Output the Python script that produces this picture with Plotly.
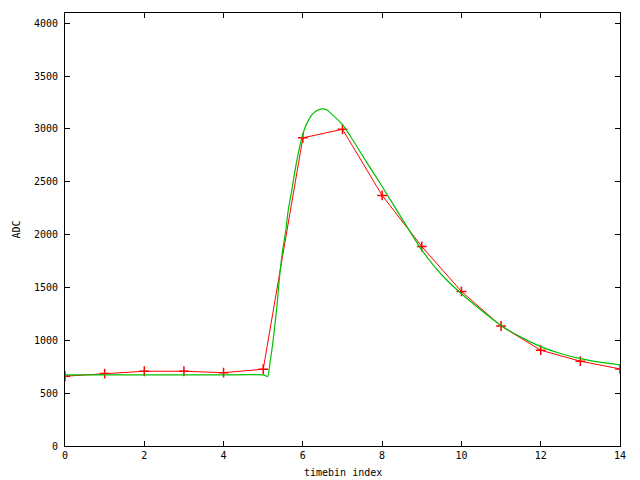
import plotly.graph_objects as go

# measured data (red)
data_x = list(range(15))
data_y = [660, 685, 707, 707, 694, 726, 2915, 2996, 2370, 1887, 1462, 1135, 906, 802, 729]

# fit curve (green)
fit_x = [0, 1, 2, 3, 4, 5.0, 5.11, 5.17, 5.23, 5.30, 5.36, 5.42, 5.49, 5.57, 5.63, 5.72, 5.80,
         5.88, 5.97, 6.05, 6.14, 6.22, 6.31, 6.40, 6.50, 6.60, 6.77, 7.0, 7.2, 7.6, 8.0, 8.45,
         9.0, 9.5, 10.0, 10.5, 11.0, 11.5, 12.0, 12.5, 13.0, 13.5, 14.0]
fit_y = [672, 672, 672, 672, 672, 672, 657, 783, 940, 1160, 1380, 1632, 1852, 2040, 2229, 2418, 2600,
         2760, 2910, 3005, 3080, 3130, 3162, 3182, 3190, 3180, 3125, 3040, 2930, 2690, 2455, 2182,
         1853, 1620, 1440, 1285, 1140, 1030, 940, 875, 827, 793, 767]

y_ticks = list(range(0, 4001, 500))
x_ticks = list(range(0, 15, 2))

font = dict(family="DejaVu Sans Mono", size=10, color="black")

fig = go.Figure()
fig.add_trace(go.Scatter(x=data_x, y=data_y, mode="lines+markers",
                         line=dict(color="#ff0000", width=1),
                         marker=dict(symbol="cross-thin", size=7,
                                     line=dict(color="#ff0000", width=1.5)),
                         showlegend=False))
fig.add_trace(go.Scatter(x=fit_x, y=fit_y, mode="lines",
                         line=dict(color="#00c000", width=1.2, shape="spline", smoothing=0.6),
                         showlegend=False))

fig.update_layout(
    width=640, height=480,
    margin=dict(l=57, r=28, t=5, b=42),
    paper_bgcolor="white", plot_bgcolor="white",
    font=font,
    xaxis=dict(range=[0, 14], tickvals=x_ticks, ticks="inside", ticklen=5,
               tickcolor="black", showline=True, linecolor="black", linewidth=1,
               mirror="ticks", showgrid=False, zeroline=False, tickfont=font),
    yaxis=dict(range=[0, 4096], tickvals=y_ticks, ticks="inside", ticklen=5,
               tickcolor="black", showline=True, linecolor="black", linewidth=1,
               mirror="ticks", showgrid=False, zeroline=False, tickfont=font,
               ticklabelstandoff=4),
    annotations=[
        dict(text="timebin index", xref="paper", yref="paper", x=0.5, y=0,
             yshift=-26, showarrow=False, font=font, yanchor="middle"),
        dict(text="ADC", xref="paper", yref="paper", x=0, y=0.5, xshift=-49,
             showarrow=False, font=font, textangle=-90, xanchor="center"),
    ],
)
fig.write_html("out.html")
